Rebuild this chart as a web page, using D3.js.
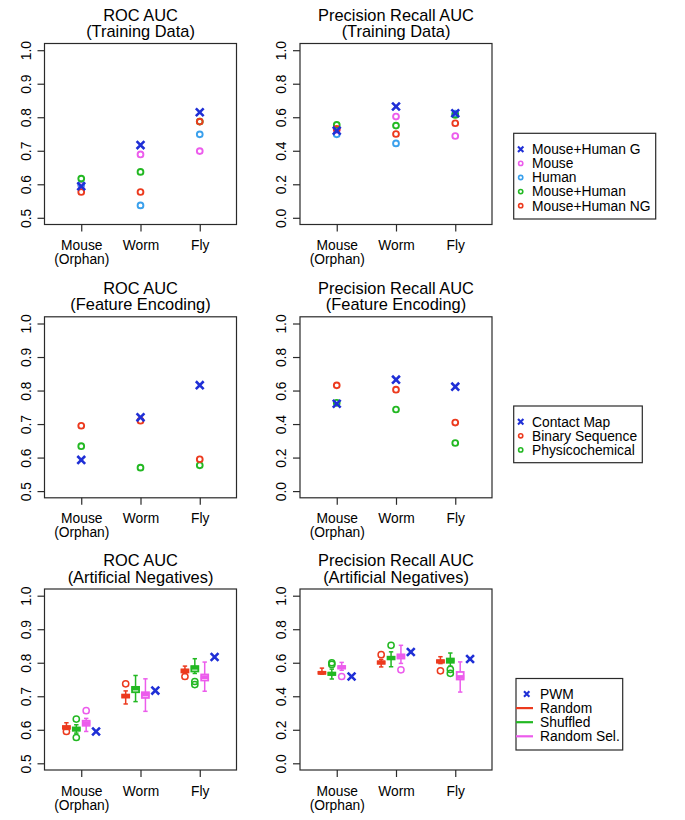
<!DOCTYPE html>
<html><head><meta charset="utf-8">
<script src="https://cdn.jsdelivr.net/npm/d3@7"></script>
<style>
body{margin:0;background:#fff}
svg{display:block}
text{font-family:"Liberation Sans",Arial,Helvetica,sans-serif;fill:#000}
</style>
</head><body>
<svg id="c" width="685" height="820"></svg>
<script>
// ---------------- DATA ----------------
const categories = [["Mouse","(Orphan)"],["Worm"],["Fly"]];
const rocTicks = [0.5,0.6,0.7,0.8,0.9,1.0];
const prTicks = [0.0,0.2,0.4,0.6,0.8,1.0];

// Training data
const trainSeries = ["Mouse+Human G","Mouse","Human","Mouse+Human","Mouse+Human NG"];
const rocTrainMHG  = [0.594, 0.717, 0.815];
const rocTrainMouse = [0.597, 0.689, 0.699];
const rocTrainHuman = [0.600, 0.537, 0.749];
const rocTrainMH   = [0.617, 0.637, 0.787];
const rocTrainMHNG = [0.577, 0.577, 0.787];
const prTrainMHG   = [0.520, 0.664, 0.624];
const prTrainMouse = [0.525, 0.604, 0.488];
const prTrainHuman = [0.498, 0.444, 0.622];
const prTrainMH    = [0.554, 0.550, 0.614];
const prTrainMHNG  = [0.530, 0.500, 0.564];

// Feature encoding
const featSeries = ["Contact Map","Binary Sequence","Physicochemical"];
const rocFeatCM   = [0.593, 0.720, 0.816];
const rocFeatBin  = [0.695, 0.710, 0.595];
const rocFeatPhys = [0.634, 0.570, 0.577];
const prFeatCM    = [0.521, 0.665, 0.623];
const prFeatBin   = [0.631, 0.605, 0.409];
const prFeatPhys  = [0.527, 0.487, 0.287];

// Artificial negatives: [lowWhisker, q1, median, q3, highWhisker] per category
const artSeries = ["PWM","Random","Shuffled","Random Sel."];
const rocPWM = [0.595, 0.717, 0.817];
const rocRandom = [[0.601,0.603,0.607,0.611,0.621],[0.677,0.696,0.701,0.705,0.716],[0.768,0.771,0.776,0.780,0.790]];
const rocRandomOut = [[0.595],[0.737],[0.759]];
const rocShuffled = [[0.590,0.597,0.602,0.607,0.615],[0.684,0.712,0.723,0.728,0.762],[0.768,0.774,0.785,0.790,0.812]];
const rocShuffledOut = [[0.632,0.577],[],[0.744,0.735]];
const rocRandSel = [[0.595,0.612,0.620,0.627,0.634],[0.655,0.695,0.705,0.712,0.752],[0.715,0.747,0.757,0.765,0.802]];
const rocRandSelOut = [[0.657],[],[]];
const prPWM = [0.518, 0.664, 0.622];
const prRandom = [[0.532,0.535,0.540,0.545,0.568],[0.575,0.594,0.602,0.608,0.620],[0.595,0.601,0.608,0.615,0.636]];
const prRandomOut = [[],[0.648],[0.552]];
const prShuffled = [[0.503,0.527,0.534,0.541,0.562],[0.576,0.620,0.628,0.636,0.665],[0.580,0.600,0.615,0.625,0.658]];
const prShuffledOut = [[0.600,0.590],[0.704],[0.560,0.537]];
const prRandSel = [[0.555,0.565,0.574,0.580,0.602],[0.596,0.625,0.640,0.650,0.704],[0.425,0.500,0.515,0.545,0.605]];
const prRandSelOut = [[0.518],[0.558],[]];

// ---------------- STYLE ----------------
const COL = {blue:"#1f2fd6", magenta:"#ec5cec", cyan:"#3aa0ec", green:"#22b822", red:"#ec3a1e"};
const frameCol = "#2a2a2a";
const svg = d3.select("#c");

const colX = [[44.5,236.5],[300,492]];
const rowTop = [43.5,316.8,589];
const boxH = 181;

function makePanel(col,row,t1,t2,isPR){
  const [x0,x1] = colX[col];
  const top = rowTop[row], bot = top+boxH;
  const x = d3.scaleLinear().domain([0.38,3.62]).range([x0,x1]);
  const y = d3.scaleLinear().domain(isPR?[-0.04,1.04]:[0.48,1.02]).range([bot,top]);
  const g = svg.append("g");
  g.append("rect").attr("x",x0).attr("y",top).attr("width",x1-x0).attr("height",boxH)
    .attr("fill","none").attr("stroke",frameCol).attr("stroke-width",1.2);
  const ya = g.append("g").attr("transform",`translate(${x0},0)`)
    .call(d3.axisLeft(y).tickValues(isPR?prTicks:rocTicks).tickSize(7).tickFormat(d3.format(".1f")));
  ya.select(".domain").remove();
  ya.selectAll(".tick line").attr("stroke",frameCol).attr("stroke-width",1.2);
  ya.selectAll(".tick text").attr("x",null).attr("dy",null).attr("fill","#000")
    .attr("text-anchor","middle").attr("transform","translate(-14,0) rotate(-90)")
    .style("font-size","13.8px").style("font-family","'Liberation Sans',Arial,sans-serif");
  const xa = g.append("g").attr("transform",`translate(0,${bot})`)
    .call(d3.axisBottom(x).tickValues([1,2,3]).tickSize(7).tickFormat(""));
  xa.select(".domain").remove();
  xa.selectAll(".tick line").attr("stroke",frameCol).attr("stroke-width",1.2);
  xa.selectAll(".tick text").remove();
  xa.selectAll(".tick").each(function(d,i){
    const t = d3.select(this).append("text").attr("text-anchor","middle")
      .style("font-size","13.8px").attr("fill","#000");
    categories[i].forEach((s,k)=>{
      t.append("tspan").attr("x",0).attr("y",25.5+k*14).text(s);
    });
  });
  const tt = g.append("text").attr("x",(x0+x1)/2).attr("y",top-23).attr("text-anchor","middle")
    .style("font-size","16.4px");
  tt.append("tspan").attr("x",(x0+x1)/2).attr("y",top-23).text(t1);
  tt.append("tspan").attr("x",(x0+x1)/2).attr("y",top-6.5).text(t2);
  return {g,x,y};
}

function drawCircles(p,vals,color,off=0){
  p.g.selectAll(null).data(vals).enter().append("circle")
    .attr("cx",(d,i)=>p.x(i+1+off)).attr("cy",d=>p.y(d)).attr("r",2.9)
    .attr("fill","none").attr("stroke",color).attr("stroke-width",1.9);
}
function xPath(cx,cy,h){
  return `M${cx-h},${cy-h}L${cx+h},${cy+h}M${cx-h},${cy+h}L${cx+h},${cy-h}`;
}
function drawX(p,vals,color,off=0){
  p.g.selectAll(null).data(vals).enter().append("path")
    .attr("d",(d,i)=>xPath(p.x(i+1+off),p.y(d),3.9))
    .attr("fill","none").attr("stroke",color).attr("stroke-width",2.6);
}
function drawBoxes(p,stats,outs,color,off){
  stats.forEach((s,i)=>{
    const cx = p.x(i+1+off);
    const bw = 3.5, cw = 2.2;
    const gg = p.g.append("g").attr("stroke",color).attr("fill","none");
    gg.append("line").attr("x1",cx).attr("x2",cx).attr("y1",p.y(s[0])).attr("y2",p.y(s[1])).attr("stroke-width",1.5);
    gg.append("line").attr("x1",cx).attr("x2",cx).attr("y1",p.y(s[3])).attr("y2",p.y(s[4])).attr("stroke-width",1.5);
    gg.append("line").attr("x1",cx-cw).attr("x2",cx+cw).attr("y1",p.y(s[0])).attr("y2",p.y(s[0])).attr("stroke-width",1.5);
    gg.append("line").attr("x1",cx-cw).attr("x2",cx+cw).attr("y1",p.y(s[4])).attr("y2",p.y(s[4])).attr("stroke-width",1.5);
    gg.append("rect").attr("x",cx-bw).attr("width",2*bw).attr("y",p.y(s[3]))
      .attr("height",Math.max(0.5,p.y(s[1])-p.y(s[3]))).attr("stroke-width",1.8);
    gg.append("line").attr("x1",cx-bw-0.5).attr("x2",cx+bw+0.5).attr("y1",p.y(s[2])).attr("y2",p.y(s[2])).attr("stroke-width",3.8);
    outs[i].forEach(v=>{
      gg.append("circle").attr("cx",cx).attr("cy",p.y(v)).attr("r",3.1).attr("stroke-width",1.5);
    });
  });
}

function legend(x0,y0,x1,y1,items,firstY,textX,symX){
  const g = svg.append("g");
  g.append("rect").attr("x",x0).attr("y",y0).attr("width",x1-x0).attr("height",y1-y0)
    .attr("fill","#fff").attr("stroke",frameCol).attr("stroke-width",1.2);
  items.forEach((it,i)=>{
    const cy = firstY + i*14.1;
    if(it.type==="x"){
      g.append("path").attr("d",xPath(symX,cy,2.7)).attr("stroke",it.color).attr("stroke-width",2.1).attr("fill","none");
    } else if(it.type==="o"){
      g.append("circle").attr("cx",symX).attr("cy",cy).attr("r",2.1).attr("fill","none").attr("stroke",it.color).attr("stroke-width",1.6);
    } else {
      g.append("line").attr("x1",x0).attr("x2",x0+17).attr("y1",cy).attr("y2",cy).attr("stroke",it.color).attr("stroke-width",2.2);
    }
    g.append("text").attr("x",textX).attr("y",cy).attr("dy","0.35em").style("font-size","13.8px").text(it.label);
  });
}

// ---------------- PANELS ----------------
let p = makePanel(0,0,"ROC AUC","(Training Data)",false);
drawCircles(p,rocTrainMouse,COL.magenta);
drawCircles(p,rocTrainHuman,COL.cyan);
drawCircles(p,rocTrainMH,COL.green);
drawCircles(p,rocTrainMHNG,COL.red);
drawX(p,rocTrainMHG,COL.blue);

p = makePanel(1,0,"Precision Recall AUC","(Training Data)",true);
drawCircles(p,prTrainMouse,COL.magenta);
drawCircles(p,prTrainHuman,COL.cyan);
drawCircles(p,prTrainMH,COL.green);
drawCircles(p,prTrainMHNG,COL.red);
drawX(p,prTrainMHG,COL.blue);

legend(513.7,133.3,655.7,219,[
  {type:"x",color:COL.blue,label:trainSeries[0]},
  {type:"o",color:COL.magenta,label:trainSeries[1]},
  {type:"o",color:COL.cyan,label:trainSeries[2]},
  {type:"o",color:COL.green,label:trainSeries[3]},
  {type:"o",color:COL.red,label:trainSeries[4]}
],149.3,532,520.7);

p = makePanel(0,1,"ROC AUC","(Feature Encoding)",false);
drawCircles(p,rocFeatPhys,COL.green);
drawCircles(p,rocFeatBin,COL.red);
drawX(p,rocFeatCM,COL.blue);

p = makePanel(1,1,"Precision Recall AUC","(Feature Encoding)",true);
drawCircles(p,prFeatPhys,COL.green);
drawCircles(p,prFeatBin,COL.red);
drawX(p,prFeatCM,COL.blue);

legend(513.7,406,642.3,462.7,[
  {type:"x",color:COL.blue,label:featSeries[0]},
  {type:"o",color:COL.red,label:featSeries[1]},
  {type:"o",color:COL.green,label:featSeries[2]}
],421.7,532,520.7);

const offs = [-0.25,-0.0833,0.0833,0.25];
p = makePanel(0,2,"ROC AUC","(Artificial Negatives)",false);
drawBoxes(p,rocRandom,rocRandomOut,COL.red,offs[0]);
drawBoxes(p,rocShuffled,rocShuffledOut,COL.green,offs[1]);
drawBoxes(p,rocRandSel,rocRandSelOut,COL.magenta,offs[2]);
drawX(p,rocPWM,COL.blue,offs[3]);

p = makePanel(1,2,"Precision Recall AUC","(Artificial Negatives)",true);
drawBoxes(p,prRandom,prRandomOut,COL.red,offs[0]);
drawBoxes(p,prShuffled,prShuffledOut,COL.green,offs[1]);
drawBoxes(p,prRandSel,prRandSelOut,COL.magenta,offs[2]);
drawX(p,prPWM,COL.blue,offs[3]);

legend(516,678.5,622.7,750,[
  {type:"x",color:COL.blue,label:artSeries[0]},
  {type:"l",color:COL.red,label:artSeries[1]},
  {type:"l",color:COL.green,label:artSeries[2]},
  {type:"l",color:COL.magenta,label:artSeries[3]}
],694,540,526.7);
</script>
</body></html>
